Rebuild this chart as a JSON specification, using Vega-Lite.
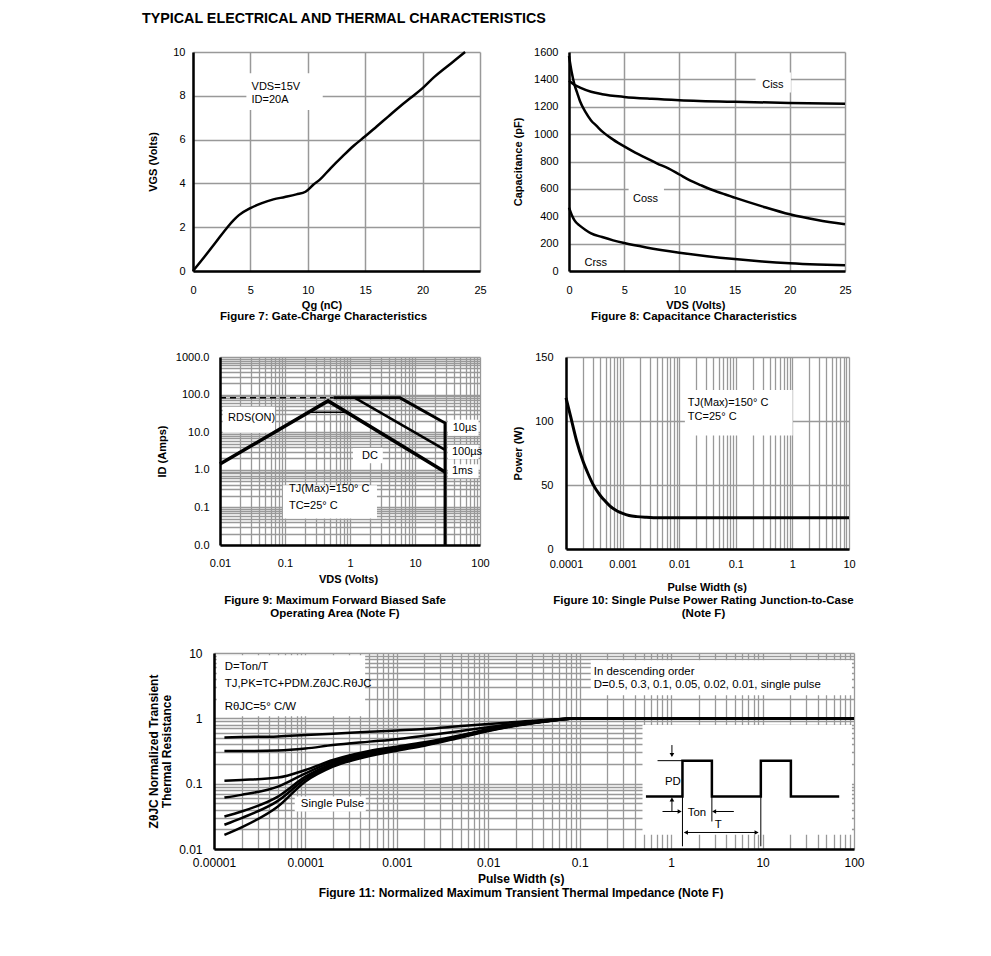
{
  "$schema": "https://vega.github.io/schema/vega-lite/v6.json",
  "background": "white",
  "padding": {"left": 0, "top": 11, "right": 0, "bottom": 0},
  "title": {"text": "TYPICAL ELECTRICAL AND THERMAL CHARACTERISTICS", "anchor": "start", "fontSize": 14.3, "fontWeight": "bold", "dx": 142, "offset": 20},
  "config": {
    "font": "Liberation Sans",
    "view": {"stroke": null},
    "axis": {
      "labelFont": "Liberation Sans", "labelFontSize": 11, "labelColor": "#000000",
      "titleFont": "Liberation Sans", "titleFontSize": 11, "titleFontWeight": "bold", "titleColor": "#000000",
      "domainColor": "#000000", "domainWidth": 2.5, "ticks": false,
      "grid": true, "gridColor": "#999999", "gridWidth": 1.3,
      "labelOverlap": false, "labelFlush": false
    },
    "title": {"font": "Liberation Sans", "fontSize": 11.5, "fontWeight": "bold", "color": "#000000", "lineHeight": 13},
    "text": {"font": "Liberation Sans", "fontSize": 11, "color": "#000000"}
  },
  "datasets": {
    "fig7_curve": [
      {"x": 0, "y": 0}, {"x": 1, "y": 0.65}, {"x": 2, "y": 1.32}, {"x": 3, "y": 2.0}, {"x": 3.5, "y": 2.3},
      {"x": 4, "y": 2.55}, {"x": 5, "y": 2.87}, {"x": 6, "y": 3.1}, {"x": 7, "y": 3.27}, {"x": 8, "y": 3.38},
      {"x": 9, "y": 3.5}, {"x": 9.8, "y": 3.62}, {"x": 10.5, "y": 3.95}, {"x": 11, "y": 4.15}, {"x": 12, "y": 4.7},
      {"x": 13, "y": 5.22}, {"x": 14, "y": 5.72}, {"x": 15, "y": 6.15}, {"x": 16, "y": 6.6}, {"x": 17, "y": 7.05},
      {"x": 18, "y": 7.5}, {"x": 19, "y": 7.92}, {"x": 20, "y": 8.35}, {"x": 21, "y": 8.85}, {"x": 22, "y": 9.28},
      {"x": 23, "y": 9.7}, {"x": 23.7, "y": 10}
    ],
    "fig7_box": [{"x": 4.65, "x2": 11.3, "y": 7.35, "y2": 9.03}],
    "fig7_text": [{"x": 5.1, "y": 8.42, "label": "VDS=15V"}, {"x": 5.1, "y": 7.81, "label": "ID=20A"}],
    "fig8_curve": [
      {"s": "Ciss", "x": 0, "y": 1390}, {"s": "Ciss", "x": 0.5, "y": 1360}, {"s": "Ciss", "x": 1, "y": 1340},
      {"s": "Ciss", "x": 2, "y": 1310}, {"s": "Ciss", "x": 3, "y": 1292}, {"s": "Ciss", "x": 5, "y": 1272},
      {"s": "Ciss", "x": 7.5, "y": 1258}, {"s": "Ciss", "x": 10, "y": 1248}, {"s": "Ciss", "x": 15, "y": 1236},
      {"s": "Ciss", "x": 20, "y": 1228}, {"s": "Ciss", "x": 25, "y": 1222},
      {"s": "Coss", "x": 0, "y": 1570}, {"s": "Coss", "x": 0.25, "y": 1450}, {"s": "Coss", "x": 0.5, "y": 1360},
      {"s": "Coss", "x": 0.75, "y": 1300}, {"s": "Coss", "x": 1, "y": 1240}, {"s": "Coss", "x": 1.5, "y": 1160},
      {"s": "Coss", "x": 2, "y": 1100}, {"s": "Coss", "x": 2.5, "y": 1060}, {"s": "Coss", "x": 3, "y": 1020},
      {"s": "Coss", "x": 4, "y": 960}, {"s": "Coss", "x": 5, "y": 910}, {"s": "Coss", "x": 6, "y": 865},
      {"s": "Coss", "x": 7, "y": 825}, {"s": "Coss", "x": 8, "y": 785}, {"s": "Coss", "x": 9, "y": 750},
      {"s": "Coss", "x": 10, "y": 705}, {"s": "Coss", "x": 11, "y": 660}, {"s": "Coss", "x": 12, "y": 625},
      {"s": "Coss", "x": 13, "y": 592}, {"s": "Coss", "x": 14, "y": 563}, {"s": "Coss", "x": 15, "y": 536},
      {"s": "Coss", "x": 17.5, "y": 472}, {"s": "Coss", "x": 20, "y": 414}, {"s": "Coss", "x": 22.5, "y": 372},
      {"s": "Coss", "x": 25, "y": 341},
      {"s": "Crss", "x": 0, "y": 463}, {"s": "Crss", "x": 0.25, "y": 410}, {"s": "Crss", "x": 0.5, "y": 370},
      {"s": "Crss", "x": 1, "y": 330}, {"s": "Crss", "x": 1.5, "y": 300}, {"s": "Crss", "x": 2, "y": 275},
      {"s": "Crss", "x": 3, "y": 248}, {"s": "Crss", "x": 4, "y": 224}, {"s": "Crss", "x": 5, "y": 204},
      {"s": "Crss", "x": 7, "y": 172}, {"s": "Crss", "x": 10, "y": 134}, {"s": "Crss", "x": 12.5, "y": 108},
      {"s": "Crss", "x": 15, "y": 87}, {"s": "Crss", "x": 17.5, "y": 70}, {"s": "Crss", "x": 20, "y": 57},
      {"s": "Crss", "x": 22.5, "y": 48}, {"s": "Crss", "x": 25, "y": 42}
    ],
    "fig8_box": [
      {"x": 16.9, "x2": 20.1, "y": 1305, "y2": 1451},
      {"x": 5.4, "x2": 8.6, "y": 428, "y2": 619},
      {"x": 0.8, "x2": 4.2, "y": 12, "y2": 125}
    ],
    "fig8_text": [
      {"x": 17.5, "y": 1356, "label": "Ciss"},
      {"x": 5.8, "y": 524, "label": "Coss"},
      {"x": 1.4, "y": 56, "label": "Crss"}
    ],
    "fig9_lines": [
      {"s": "rds", "o": 1, "x": 0.01, "y": 1.42}, {"s": "rds", "o": 2, "x": 0.46, "y": 68}, {"s": "rds", "o": 3, "x": 29, "y": 0.88},
      {"s": "p10", "o": 1, "x": 0.56, "y": 82}, {"s": "p10", "o": 2, "x": 5.9, "y": 82}, {"s": "p10", "o": 3, "x": 29, "y": 17.5}, {"s": "p10", "o": 4, "x": 29, "y": 0.01},
      {"s": "p100", "o": 1, "x": 1.19, "y": 82}, {"s": "p100", "o": 2, "x": 29, "y": 3.4},
      {"s": "dcflat", "o": 1, "x": 0.25, "y": 34}, {"s": "dcflat", "o": 2, "x": 0.85, "y": 34},
      {"s": "dash", "o": 1, "x": 0.01, "y": 82}, {"s": "dash", "o": 2, "x": 0.56, "y": 82}
    ],
    "fig9_box": [
      {"x": 0.011, "x2": 0.07, "y": 9.6, "y2": 47.8},
      {"x": 0.093, "x2": 2.6, "y": 0.051, "y2": 0.39},
      {"x": 1.11, "x2": 3.2, "y": 1.5, "y2": 3.8},
      {"x": 32, "x2": 95, "y": 8.0, "y2": 21.5},
      {"x": 32, "x2": 95, "y": 1.93, "y2": 4.6},
      {"x": 32, "x2": 95, "y": 0.6, "y2": 1.4}
    ],
    "fig9_text": [
      {"x": 0.0133, "y": 24.3, "label": "RDS(ON)"},
      {"x": 1.53, "y": 2.33, "label": "DC"},
      {"x": 0.115, "y": 0.304, "label": "TJ(Max)=150° C"},
      {"x": 0.115, "y": 0.106, "label": "TC=25° C"},
      {"x": 38, "y": 13.1, "label": "10µs"},
      {"x": 37, "y": 2.98, "label": "100µs"},
      {"x": 37, "y": 0.92, "label": "1ms"}
    ],
    "fig10_curve": [
      {"x": 0.0001, "y": 118}, {"x": 0.00012, "y": 104}, {"x": 0.000155, "y": 84}, {"x": 0.0002, "y": 68.5},
      {"x": 0.00025, "y": 58}, {"x": 0.0003, "y": 50.5}, {"x": 0.0004, "y": 42}, {"x": 0.00046, "y": 38.8},
      {"x": 0.0006, "y": 33.5}, {"x": 0.0008, "y": 29.7}, {"x": 0.001, "y": 27.8}, {"x": 0.0013, "y": 26.2},
      {"x": 0.0018, "y": 25.3}, {"x": 0.0025, "y": 24.8}, {"x": 0.0035, "y": 24.5}, {"x": 0.01, "y": 24.5},
      {"x": 10, "y": 24.5}
    ],
    "fig10_box": [{"x": 0.0126, "x2": 1.01, "y": 88.7, "y2": 124.3}],
    "fig10_text": [
      {"x": 0.01422, "y": 114.3, "label": "TJ(Max)=150° C"},
      {"x": 0.01422, "y": 103.4, "label": "TC=25° C"}
    ],
    "fig11_curve": [
      {"s": "0.5", "x": 0.000013, "y": 0.511}, {"s": "0.5", "x": 0.00002, "y": 0.517}, {"s": "0.5", "x": 0.00005, "y": 0.529}, {"s": "0.5", "x": 0.0001, "y": 0.555}, {"s": "0.5", "x": 0.0002, "y": 0.581}, {"s": "0.5", "x": 0.0005, "y": 0.624}, {"s": "0.5", "x": 0.001, "y": 0.653}, {"s": "0.5", "x": 0.002, "y": 0.685}, {"s": "0.5", "x": 0.005, "y": 0.76}, {"s": "0.5", "x": 0.01, "y": 0.82}, {"s": "0.5", "x": 0.02, "y": 0.88}, {"s": "0.5", "x": 0.05, "y": 0.96}, {"s": "0.5", "x": 0.1, "y": 1.0}, {"s": "0.5", "x": 1, "y": 1.0}, {"s": "0.5", "x": 10, "y": 1.0}, {"s": "0.5", "x": 100, "y": 1.0},
      {"s": "0.3", "x": 0.000013, "y": 0.316}, {"s": "0.3", "x": 0.00002, "y": 0.316}, {"s": "0.3", "x": 0.00005, "y": 0.322}, {"s": "0.3", "x": 0.0001, "y": 0.345}, {"s": "0.3", "x": 0.0002, "y": 0.39}, {"s": "0.3", "x": 0.0005, "y": 0.44}, {"s": "0.3", "x": 0.001, "y": 0.48}, {"s": "0.3", "x": 0.002, "y": 0.542}, {"s": "0.3", "x": 0.005, "y": 0.64}, {"s": "0.3", "x": 0.01, "y": 0.73}, {"s": "0.3", "x": 0.02, "y": 0.83}, {"s": "0.3", "x": 0.05, "y": 0.95}, {"s": "0.3", "x": 0.1, "y": 1.0}, {"s": "0.3", "x": 1, "y": 1.0}, {"s": "0.3", "x": 10, "y": 1.0}, {"s": "0.3", "x": 100, "y": 1.0},
      {"s": "0.1", "x": 0.000013, "y": 0.111}, {"s": "0.1", "x": 0.00002, "y": 0.114}, {"s": "0.1", "x": 0.00005, "y": 0.124}, {"s": "0.1", "x": 0.0001, "y": 0.162}, {"s": "0.1", "x": 0.0002, "y": 0.23}, {"s": "0.1", "x": 0.0005, "y": 0.316}, {"s": "0.1", "x": 0.001, "y": 0.368}, {"s": "0.1", "x": 0.002, "y": 0.429}, {"s": "0.1", "x": 0.005, "y": 0.55}, {"s": "0.1", "x": 0.01, "y": 0.68}, {"s": "0.1", "x": 0.02, "y": 0.8}, {"s": "0.1", "x": 0.05, "y": 0.94}, {"s": "0.1", "x": 0.1, "y": 1.0}, {"s": "0.1", "x": 1, "y": 1.0}, {"s": "0.1", "x": 10, "y": 1.0}, {"s": "0.1", "x": 100, "y": 1.0},
      {"s": "0.05", "x": 0.000013, "y": 0.0613}, {"s": "0.05", "x": 0.00002, "y": 0.0674}, {"s": "0.05", "x": 0.00005, "y": 0.0903}, {"s": "0.05", "x": 0.0001, "y": 0.144}, {"s": "0.05", "x": 0.0002, "y": 0.217}, {"s": "0.05", "x": 0.0005, "y": 0.302}, {"s": "0.05", "x": 0.001, "y": 0.355}, {"s": "0.05", "x": 0.002, "y": 0.409}, {"s": "0.05", "x": 0.005, "y": 0.54}, {"s": "0.05", "x": 0.01, "y": 0.67}, {"s": "0.05", "x": 0.02, "y": 0.79}, {"s": "0.05", "x": 0.05, "y": 0.93}, {"s": "0.05", "x": 0.1, "y": 1.0}, {"s": "0.05", "x": 1, "y": 1.0}, {"s": "0.05", "x": 10, "y": 1.0}, {"s": "0.05", "x": 100, "y": 1.0},
      {"s": "0.02", "x": 0.000013, "y": 0.0315}, {"s": "0.02", "x": 0.00002, "y": 0.0375}, {"s": "0.02", "x": 0.00005, "y": 0.0635}, {"s": "0.02", "x": 0.0001, "y": 0.128}, {"s": "0.02", "x": 0.0002, "y": 0.205}, {"s": "0.02", "x": 0.0005, "y": 0.288}, {"s": "0.02", "x": 0.001, "y": 0.339}, {"s": "0.02", "x": 0.002, "y": 0.4}, {"s": "0.02", "x": 0.005, "y": 0.53}, {"s": "0.02", "x": 0.01, "y": 0.66}, {"s": "0.02", "x": 0.02, "y": 0.78}, {"s": "0.02", "x": 0.05, "y": 0.93}, {"s": "0.02", "x": 0.1, "y": 1.0}, {"s": "0.02", "x": 1, "y": 1.0}, {"s": "0.02", "x": 10, "y": 1.0}, {"s": "0.02", "x": 100, "y": 1.0},
      {"s": "0.01", "x": 0.000013, "y": 0.0235}, {"s": "0.01", "x": 0.00002, "y": 0.0297}, {"s": "0.01", "x": 0.00005, "y": 0.0546}, {"s": "0.01", "x": 0.0001, "y": 0.118}, {"s": "0.01", "x": 0.0002, "y": 0.193}, {"s": "0.01", "x": 0.0005, "y": 0.275}, {"s": "0.01", "x": 0.001, "y": 0.331}, {"s": "0.01", "x": 0.002, "y": 0.39}, {"s": "0.01", "x": 0.005, "y": 0.52}, {"s": "0.01", "x": 0.01, "y": 0.65}, {"s": "0.01", "x": 0.02, "y": 0.78}, {"s": "0.01", "x": 0.05, "y": 0.93}, {"s": "0.01", "x": 0.1, "y": 1.0}, {"s": "0.01", "x": 1, "y": 1.0}, {"s": "0.01", "x": 10, "y": 1.0}, {"s": "0.01", "x": 100, "y": 1.0},
      {"s": "single", "x": 0.000013, "y": 0.0165}, {"s": "single", "x": 0.00002, "y": 0.0214}, {"s": "single", "x": 0.00005, "y": 0.0447}, {"s": "single", "x": 0.0001, "y": 0.108}, {"s": "single", "x": 0.0002, "y": 0.182}, {"s": "single", "x": 0.0005, "y": 0.265}, {"s": "single", "x": 0.001, "y": 0.32}, {"s": "single", "x": 0.002, "y": 0.381}, {"s": "single", "x": 0.005, "y": 0.51}, {"s": "single", "x": 0.01, "y": 0.64}, {"s": "single", "x": 0.02, "y": 0.77}, {"s": "single", "x": 0.05, "y": 0.92}, {"s": "single", "x": 0.1, "y": 1.0}, {"s": "single", "x": 1, "y": 1.0}, {"s": "single", "x": 10, "y": 1.0}, {"s": "single", "x": 100, "y": 1.0}
    ],
    "fig11_box": [
      {"x": 0.0000107, "x2": 0.00045, "y": 1.08, "y2": 9.2},
      {"x": 0.132, "x2": 95, "y": 2.26, "y2": 7.74},
      {"x": 0.486, "x2": 95, "y": 0.0165, "y2": 0.79},
      {"x": 0.0000764, "x2": 0.000457, "y": 0.0375, "y2": 0.0635}
    ],
    "fig11_pulse": [
      {"o": 1, "x": 0.53, "y": 0.0635}, {"o": 2, "x": 1.33, "y": 0.0635}, {"o": 3, "x": 1.33, "y": 0.225},
      {"o": 4, "x": 2.79, "y": 0.225}, {"o": 5, "x": 2.79, "y": 0.0635}, {"o": 6, "x": 9.57, "y": 0.0635},
      {"o": 7, "x": 9.57, "y": 0.225}, {"o": 8, "x": 20.4, "y": 0.225}, {"o": 9, "x": 20.4, "y": 0.0635},
      {"o": 10, "x": 68.9, "y": 0.0635}
    ],
    "fig11_rules": [
      {"x": 1.33, "y": 0.225, "x2": 1.33, "y2": 0.011},
      {"x": 2.79, "y": 0.0635, "x2": 2.79, "y2": 0.0264},
      {"x": 9.57, "y": 0.0635, "x2": 9.57, "y2": 0.011},
      {"x": 0.71, "y": 0.225, "x2": 1.33, "y2": 0.225},
      {"x": 1.02, "y": 0.39, "x2": 1.02, "y2": 0.27},
      {"x": 1.02, "y": 0.0375, "x2": 1.02, "y2": 0.056},
      {"x": 0.805, "y": 0.0375, "x2": 1.25, "y2": 0.0375},
      {"x": 2.93, "y": 0.0375, "x2": 4.85, "y2": 0.0375},
      {"x": 1.41, "y": 0.0179, "x2": 8.87, "y2": 0.0179}
    ],
    "fig11_heads": [
      {"x": 1.02, "y": 0.275, "dir": "down"},
      {"x": 1.02, "y": 0.0575, "dir": "up"},
      {"x": 1.24, "y": 0.0375, "dir": "right"},
      {"x": 2.95, "y": 0.0375, "dir": "left"},
      {"x": 1.45, "y": 0.0179, "dir": "left"},
      {"x": 8.6, "y": 0.0179, "dir": "right"}
    ],
    "fig11_text": [
      {"x": 0.0000131, "y": 6.05, "label": "D=Ton/T"},
      {"x": 0.0000131, "y": 3.33, "label": "TJ,PK=TC+PDM.ZθJC.RθJC"},
      {"x": 0.0000131, "y": 1.48, "label": "RθJC=5° C/W"},
      {"x": 0.1426, "y": 5.07, "label": "In descending order"},
      {"x": 0.1426, "y": 3.21, "label": "D=0.5, 0.3, 0.1, 0.05, 0.02, 0.01, single pulse"},
      {"x": 0.000089, "y": 0.0486, "label": "Single Pulse"},
      {"x": 0.855, "y": 0.105, "label": "PD"},
      {"x": 1.52, "y": 0.0354, "label": "Ton"},
      {"x": 2.99, "y": 0.0234, "label": "T"}
    ]
  },
  "spacing": 27,
  "vconcat": [
    {
      "spacing": 28,
      "vconcat": [
        {
          "spacing": 0,
          "hconcat": [
            {"width": 147, "height": 1, "data": {"values": [{"v": 0}]}, "mark": {"type": "point", "opacity": 0}, "encoding": {}},
            {
              "width": 287, "height": 219,
              "title": {"text": "Figure 7: Gate-Charge Characteristics", "orient": "bottom", "anchor": "middle", "frame": "group", "dx": -13, "offset": 1},
              "encoding": {
                "x": {"field": "x", "type": "quantitative", "scale": {"domain": [0, 25], "nice": false, "zero": false},
                      "axis": {"title": "Qg (nC)", "values": [0, 5, 10, 15, 20, 25], "labelPadding": 13, "titlePadding": 4, "titleX": 128.5, "gridWidth": 1.5}},
                "y": {"field": "y", "type": "quantitative", "scale": {"domain": [0, 10], "nice": false, "zero": false},
                      "axis": {"title": "VGS (Volts)", "values": [0, 2, 4, 6, 8, 10], "labelPadding": 8, "titlePadding": 14, "gridWidth": 1.5}}
              },
              "layer": [
                {"data": {"name": "fig7_box"}, "mark": {"type": "rect", "fill": "white"}, "encoding": {"x2": {"field": "x2"}, "y2": {"field": "y2"}}},
                {"data": {"name": "fig7_curve"}, "mark": {"type": "line", "color": "black", "strokeWidth": 2.5, "interpolate": "monotone"}, "encoding": {}},
                {"data": {"name": "fig7_text"}, "mark": {"type": "text", "align": "left", "baseline": "middle"}, "encoding": {"text": {"field": "label"}}}
              ]
            },
            {"width": 25, "height": 1, "data": {"values": [{"v": 0}]}, "mark": {"type": "point", "opacity": 0}, "encoding": {}},
            {
              "width": 276, "height": 219,
              "title": {"text": "Figure 8: Capacitance Characteristics", "orient": "bottom", "anchor": "middle", "frame": "group", "dx": -13, "offset": 1},
              "encoding": {
                "x": {"field": "x", "type": "quantitative", "scale": {"domain": [0, 25], "nice": false, "zero": false},
                      "axis": {"title": "VDS (Volts)", "values": [0, 5, 10, 15, 20, 25], "labelPadding": 13, "titlePadding": 4, "titleX": 126.3, "gridWidth": 1.5}},
                "y": {"field": "y", "type": "quantitative", "scale": {"domain": [0, 1600], "nice": false, "zero": false},
                      "axis": {"title": "Capacitance (pF)", "format": "d", "values": [0, 200, 400, 600, 800, 1000, 1200, 1400, 1600], "labelPadding": 11, "titlePadding": 10, "gridWidth": 1.5}}
              },
              "layer": [
                {"data": {"name": "fig8_box"}, "mark": {"type": "rect", "fill": "white"}, "encoding": {"x2": {"field": "x2"}, "y2": {"field": "y2"}}},
                {"data": {"name": "fig8_curve"}, "mark": {"type": "line", "color": "black", "strokeWidth": 2.5, "interpolate": "monotone"}, "encoding": {"detail": {"field": "s"}}},
                {"data": {"name": "fig8_text"}, "mark": {"type": "text", "align": "left", "baseline": "middle"}, "encoding": {"text": {"field": "label"}}}
              ]
            }
          ]
        },
        {
          "spacing": 0,
          "hconcat": [
            {"width": 156, "height": 1, "data": {"values": [{"v": 0}]}, "mark": {"type": "point", "opacity": 0}, "encoding": {}},
            {
              "width": 260, "height": 188,
              "title": {"text": ["Figure 9: Maximum Forward Biased Safe", "Operating Area (Note F)"], "orient": "bottom", "anchor": "middle", "frame": "group", "dx": -15, "offset": 11},
              "encoding": {
                "x": {"field": "x", "type": "quantitative", "scale": {"type": "log", "domain": [0.01, 100], "nice": false},
                      "axis": {"title": "VDS (Volts)", "labelPadding": 12, "titlePadding": 5, "titleX": 128,
                               "values": [0.01,0.02,0.03,0.04,0.05,0.06,0.07,0.08,0.09,0.1,0.2,0.3,0.4,0.5,0.6,0.7,0.8,0.9,1,2,3,4,5,6,7,8,9,10,20,30,40,50,60,70,80,90,100],
                               "labelExpr": "indexof([0.01,0.1,1,10,100], datum.value) >= 0 ? format(datum.value, '~g') : ''"}},
                "y": {"field": "y", "type": "quantitative", "scale": {"type": "log", "domain": [0.01, 1000], "nice": false},
                      "axis": {"title": "ID (Amps)", "labelPadding": 11, "titlePadding": 8,
                               "values": [0.01,0.02,0.03,0.04,0.05,0.06,0.07,0.08,0.09,0.1,0.2,0.3,0.4,0.5,0.6,0.7,0.8,0.9,1,2,3,4,5,6,7,8,9,10,20,30,40,50,60,70,80,90,100,200,300,400,500,600,700,800,900,1000],
                               "labelExpr": "indexof([0.01,0.1,1,10,100,1000], datum.value) >= 0 ? format(datum.value, '.1f') : ''"}}
              },
              "layer": [
                {"data": {"name": "fig9_box"}, "mark": {"type": "rect", "fill": "white"}, "encoding": {"x2": {"field": "x2"}, "y2": {"field": "y2"}}},
                {"data": {"name": "fig9_lines"}, "transform": [{"filter": "datum.s === 'dash'"}], "mark": {"type": "line", "color": "black", "strokeWidth": 1.5, "strokeDash": [6, 4]}, "encoding": {"order": {"field": "o"}}},
                {"data": {"name": "fig9_lines"}, "transform": [{"filter": "datum.s === 'dcflat'"}], "mark": {"type": "line", "color": "black", "strokeWidth": 1.5}, "encoding": {"order": {"field": "o"}}},
                {"data": {"name": "fig9_lines"}, "transform": [{"filter": "datum.s === 'p100'"}], "mark": {"type": "line", "color": "black", "strokeWidth": 2.5}, "encoding": {"order": {"field": "o"}}},
                {"data": {"name": "fig9_lines"}, "transform": [{"filter": "datum.s === 'p10'"}], "mark": {"type": "line", "color": "black", "strokeWidth": 3}, "encoding": {"order": {"field": "o"}}},
                {"data": {"name": "fig9_lines"}, "transform": [{"filter": "datum.s === 'rds'"}], "mark": {"type": "line", "color": "black", "strokeWidth": 3.5}, "encoding": {"order": {"field": "o"}}},
                {"data": {"name": "fig9_text"}, "mark": {"type": "text", "align": "left", "baseline": "middle"}, "encoding": {"text": {"field": "label"}}}
              ]
            },
            {"width": 22, "height": 1, "data": {"values": [{"v": 0}]}, "mark": {"type": "point", "opacity": 0}, "encoding": {}},
            {
              "width": 283, "height": 192,
              "title": {"text": ["Figure 10: Single Pulse Power Rating Junction-to-Case", "(Note F)"], "orient": "bottom", "anchor": "middle", "frame": "group", "dx": -4, "offset": 3},
              "encoding": {
                "x": {"field": "x", "type": "quantitative", "scale": {"type": "log", "domain": [0.0001, 10], "nice": false},
                      "axis": {"title": "Pulse Width (s)", "labelPadding": 9, "titlePadding": 12, "titleX": 140.7,
                               "values": [0.0001,0.0002,0.0003,0.0004,0.0005,0.0006,0.0007,0.0008,0.0009,0.001,0.002,0.003,0.004,0.005,0.006,0.007,0.008,0.009,0.01,0.02,0.03,0.04,0.05,0.06,0.07,0.08,0.09,0.1,0.2,0.3,0.4,0.5,0.6,0.7,0.8,0.9,1,2,3,4,5,6,7,8,9,10],
                               "labelExpr": "indexof([0.0001,0.001,0.01,0.1,1,10], datum.value) >= 0 ? format(datum.value, '~g') : ''"}},
                "y": {"field": "y", "type": "quantitative", "scale": {"domain": [0, 150], "nice": false, "zero": false},
                      "axis": {"title": "Power (W)", "values": [0, 50, 100, 150], "labelPadding": 13, "titlePadding": 11}}
              },
              "layer": [
                {"data": {"name": "fig10_box"}, "mark": {"type": "rect", "fill": "white"}, "encoding": {"x2": {"field": "x2"}, "y2": {"field": "y2"}}},
                {"data": {"name": "fig10_curve"}, "mark": {"type": "line", "color": "black", "strokeWidth": 3, "interpolate": "monotone"}, "encoding": {}},
                {"data": {"name": "fig10_text"}, "mark": {"type": "text", "align": "left", "baseline": "middle"}, "encoding": {"text": {"field": "label"}}}
              ]
            }
          ]
        }
      ]
    },
    {
      "spacing": 0,
      "hconcat": [
        {"width": 147, "height": 1, "data": {"values": [{"v": 0}]}, "mark": {"type": "point", "opacity": 0}, "encoding": {}},
        {
          "width": 640, "height": 196,
          "title": {"text": "Figure 11: Normalized Maximum Transient Thermal Impedance (Note F)", "orient": "bottom", "anchor": "middle", "frame": "group", "dx": -13, "offset": 4, "fontSize": 12},
          "encoding": {
            "x": {"field": "x", "type": "quantitative", "scale": {"type": "log", "domain": [0.00001, 100], "nice": false},
                  "axis": {"title": "Pulse Width (s)", "labelFontSize": 12, "titleFontSize": 12, "labelPadding": 8, "titlePadding": 5, "titleX": 306.7,
                           "values": [0.00001,0.00002,0.00003,0.00004,0.00005,0.00006,0.00007,0.00008,0.00009,0.0001,0.0002,0.0003,0.0004,0.0005,0.0006,0.0007,0.0008,0.0009,0.001,0.002,0.003,0.004,0.005,0.006,0.007,0.008,0.009,0.01,0.02,0.03,0.04,0.05,0.06,0.07,0.08,0.09,0.1,0.2,0.3,0.4,0.5,0.6,0.7,0.8,0.9,1,2,3,4,5,6,7,8,9,10,20,30,40,50,60,70,80,90,100],
                           "labelExpr": "indexof([0.00001,0.0001,0.001,0.01,0.1,1,10,100], datum.value) >= 0 ? format(datum.value, '~g') : ''"}},
            "y": {"field": "y", "type": "quantitative", "scale": {"type": "log", "domain": [0.01, 10], "nice": false},
                  "axis": {"title": ["ZθJC Normalized Transient", "Thermal Resistance"], "labelFontSize": 12, "titleFontSize": 12, "titleLineHeight": 13, "labelPadding": 12, "titlePadding": 5,
                           "values": [0.01,0.02,0.03,0.04,0.05,0.06,0.07,0.08,0.09,0.1,0.2,0.3,0.4,0.5,0.6,0.7,0.8,0.9,1,2,3,4,5,6,7,8,9,10],
                           "labelExpr": "indexof([0.01,0.1,1,10], datum.value) >= 0 ? format(datum.value, '~g') : ''"}}
          },
          "layer": [
            {"data": {"name": "fig11_box"}, "mark": {"type": "rect", "fill": "white"}, "encoding": {"x2": {"field": "x2"}, "y2": {"field": "y2"}}},
            {"data": {"name": "fig11_curve"}, "mark": {"type": "line", "color": "black", "strokeWidth": 2.5, "interpolate": "monotone"}, "encoding": {"detail": {"field": "s"}}},
            {"data": {"name": "fig11_pulse"}, "mark": {"type": "line", "color": "black", "strokeWidth": 2.5}, "encoding": {"order": {"field": "o"}}},
            {"data": {"name": "fig11_rules"}, "mark": {"type": "rule", "color": "black", "strokeWidth": 1}, "encoding": {"x2": {"field": "x2"}, "y2": {"field": "y2"}}},
            {"data": {"name": "fig11_heads"}, "mark": {"type": "point", "filled": true, "color": "black", "opacity": 1, "size": 22},
             "encoding": {"shape": {"field": "dir", "type": "nominal", "scale": {"domain": ["down", "up", "right", "left"], "range": ["triangle-down", "triangle-up", "triangle-right", "triangle-left"]}, "legend": null}}},
            {"data": {"name": "fig11_text"}, "mark": {"type": "text", "align": "left", "baseline": "middle", "fontSize": 11.4}, "encoding": {"text": {"field": "label"}}}
          ]
        }
      ]
    }
  ]
}
